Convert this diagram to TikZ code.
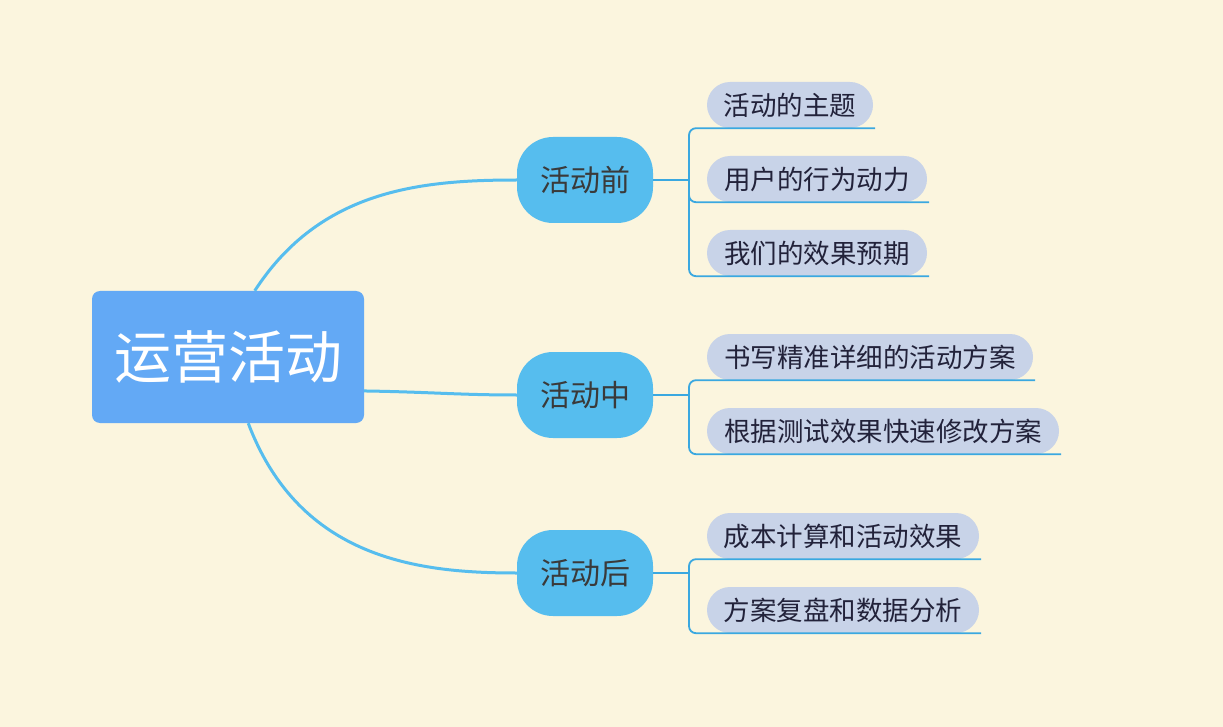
\documentclass[tikz,border=0pt]{standalone}
\usepackage{fontspec}
\newfontfamily\cjk{Noto Sans CJK SC}
\definecolor{bgc}{HTML}{FBF5DE}
\definecolor{rootc}{HTML}{63A9F5}
\definecolor{brc}{HTML}{56BDEE}
\definecolor{leafc}{HTML}{C8D3E8}
\definecolor{linec}{HTML}{3AA8E0}
\definecolor{brtext}{HTML}{3A3A3A}
\definecolor{leaftext}{HTML}{22223A}
\begin{document}
\begin{tikzpicture}[x=1pt,y=-1pt,
  rootbox/.style={rectangle,fill=rootc,rounded corners=8pt,minimum width=272pt,minimum height=132pt,inner sep=0pt,text=white,font=\cjk\fontsize{57}{60}\selectfont},
  brbox/.style={rectangle,fill=brc,rounded corners=36pt,minimum width=136pt,minimum height=86pt,inner sep=0pt,text=brtext,font=\cjk\fontsize{30}{32}\selectfont},
  leafbox/.style={rectangle,fill=leafc,rounded corners=23pt,minimum height=46pt,inner sep=0pt,text=leaftext,font=\cjk\fontsize{26.5}{30}\selectfont},
  curve/.style={draw=brc,line width=3pt},
  leafline/.style={draw=linec,line width=1.8pt,rounded corners=7pt}]
\useasboundingbox (0,0) rectangle (1223,727);
\fill[bgc] (0,0) rectangle (1223,727);
\coordinate (j1) at (689,180);
\coordinate (j2) at (689,395);
\coordinate (j3) at (689,573);
\node[rootbox] (root) at (228,357) {运营活动};
\node[brbox] (b1) at (585,180) {活动前};
\node[brbox] (b2) at (585,395) {活动中};
\node[brbox] (b3) at (585,573) {活动后};
\node[leafbox,minimum width=166pt] (l1) at (790,105) {活动的主题};
\node[leafbox,minimum width=220pt] (l2) at (817,179) {用户的行为动力};
\node[leafbox,minimum width=220pt] (l3) at (817,253) {我们的效果预期};
\node[leafbox,minimum width=326pt] (l4) at (870,357) {书写精准详细的活动方案};
\node[leafbox,minimum width=352pt] (l5) at (883,431) {根据测试效果快速修改方案};
\node[leafbox,minimum width=272pt] (l6) at (843,536) {成本计算和活动效果};
\node[leafbox,minimum width=272pt] (l7) at (843,610) {方案复盘和数据分析};
% curves
\draw[curve] (root.68) .. controls (320,190) and (420,180) .. (b1.west);
\draw[curve] (root.-14) .. controls (430,392) and (460,395) .. (b2.west);
\draw[curve] (root.-73) .. controls (300,560) and (420,573) .. (b3.west);
% leaf lines
\draw[leafline] (b1.east) -- (j1);
\draw[leafline] (b2.east) -- (j2);
\draw[leafline] (b3.east) -- (j3);
\foreach \l/\j in {l1/j1,l2/j1,l3/j1,l4/j2,l5/j2,l6/j3,l7/j3}{
  \draw[leafline] (\j) |- ([xshift=2pt]\l.south east);
}
\end{tikzpicture}
\end{document}
